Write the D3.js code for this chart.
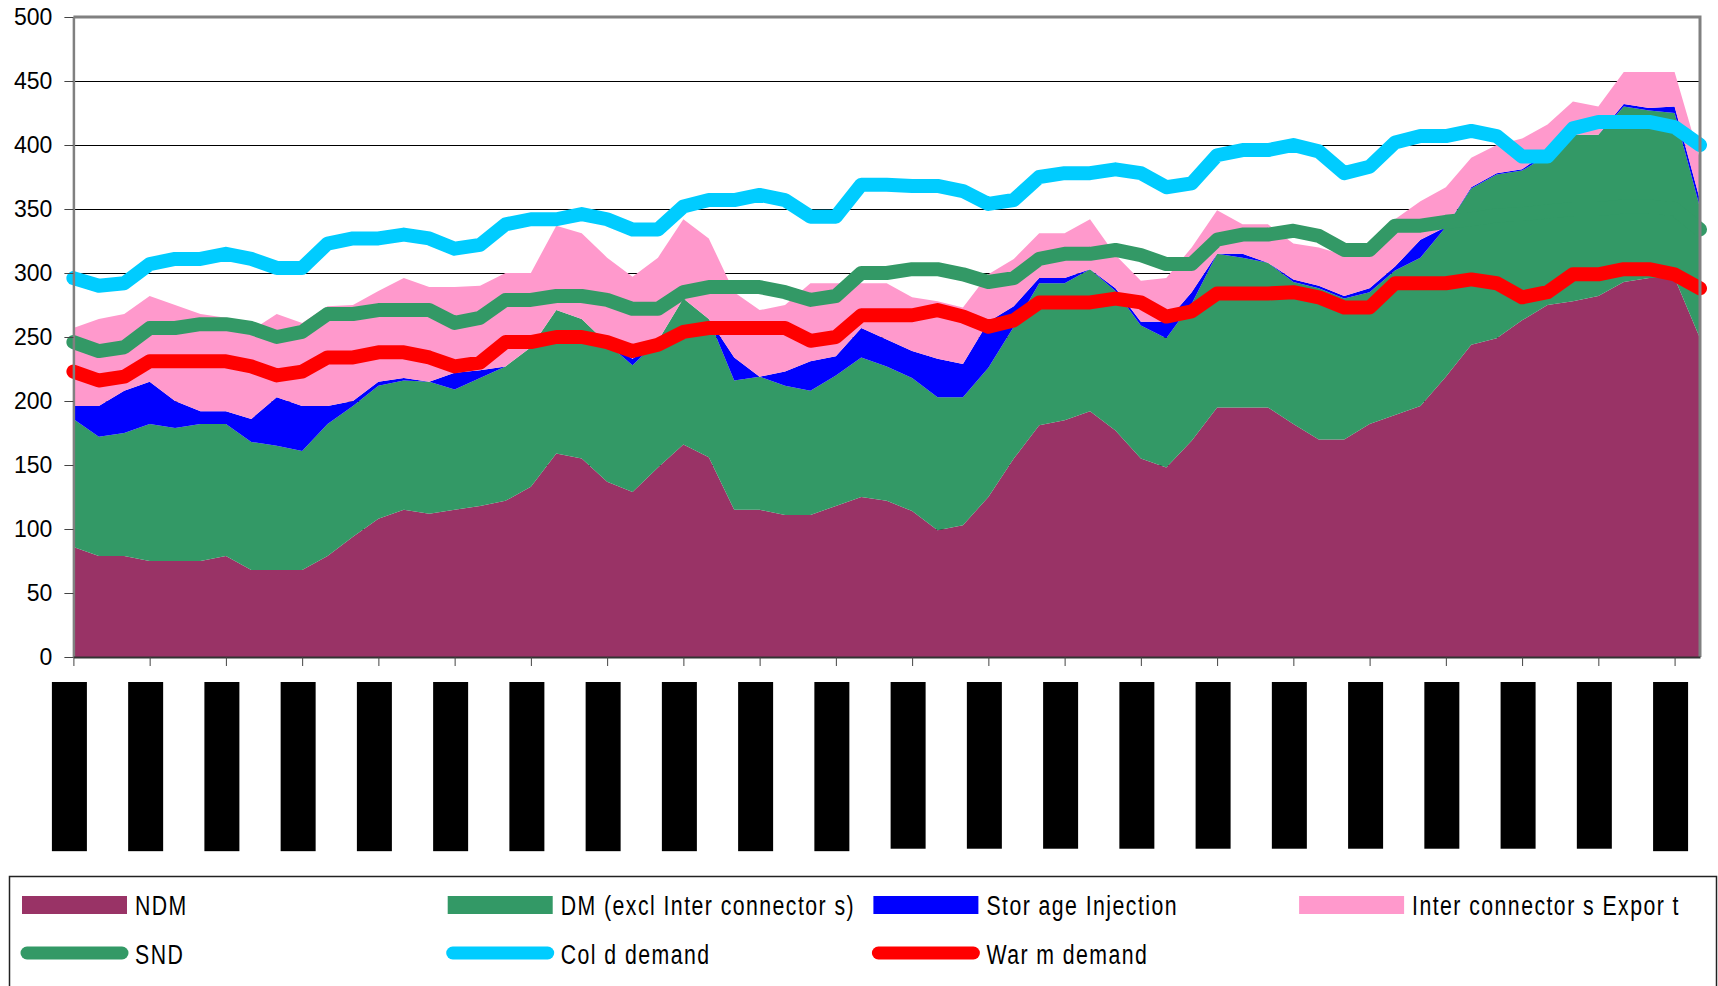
<!DOCTYPE html>
<html>
<head>
<meta charset="utf-8">
<script src="https://cdn.jsdelivr.net/npm/d3@7/dist/d3.min.js"></script>
<style>
  body { margin: 0; background: #fff; }
  svg { display: block; font-family: "Liberation Sans", Arial, sans-serif; }
  .legend text { font-family: "Liberation Sans", Arial, sans-serif; font-size: 28px; letter-spacing: 1.9px; }
</style>
</head>
<body>
<svg id="chart" width="1718" height="986"></svg>
<script>
// daily gas demand, one point per gas day
const dates = [
  "01/10/2008","02/10/2008","03/10/2008","04/10/2008","05/10/2008","06/10/2008","07/10/2008","08/10/2008",
  "09/10/2008","10/10/2008","11/10/2008","12/10/2008","13/10/2008","14/10/2008","15/10/2008","16/10/2008",
  "17/10/2008","18/10/2008","19/10/2008","20/10/2008","21/10/2008","22/10/2008","23/10/2008","24/10/2008",
  "25/10/2008","26/10/2008","27/10/2008","28/10/2008","29/10/2008","30/10/2008","31/10/2008","01/11/2008",
  "02/11/2008","03/11/2008","04/11/2008","05/11/2008","06/11/2008","07/11/2008","08/11/2008","09/11/2008",
  "10/11/2008","11/11/2008","12/11/2008","13/11/2008","14/11/2008","15/11/2008","16/11/2008","17/11/2008",
  "18/11/2008","19/11/2008","20/11/2008","21/11/2008","22/11/2008","23/11/2008","24/11/2008","25/11/2008",
  "26/11/2008","27/11/2008","28/11/2008","29/11/2008","30/11/2008","01/12/2008","02/12/2008","03/12/2008",
  "04/12/2008"
];

// stacked areas
const ndm = [86,79,79,75,75,75,79,68,68,68, 79,94,108,115,112,115,118,122,133,159,
  155,137,129,148,166,156,115,115,111,111, 118,125,122,114,99,103,125,155,181,185,
  192,177,155,148,169,195,195,195,182,170, 170,182,189,196,219,244,249,263,275,278,
  282,293,296,296,249];
const dm = [100,93,96,107,104,107,103,100,97,93, 103,102,104,101,103,94,100,105,109,112,
  109,108,99,99,114,108,101,104,101,97, 102,109,105,104,104,100,101,103,111,107,
  111,109,104,101,107,120,117,113,111,118, 110,103,113,116,117,122,128,117,117,130,
  126,137,131,129,102];
const storage = [10,24,33,33,21,10,10,18,38,35, 14,4,3,2,0,13,6,0,0,0,
  0,0,5,0,0,0,18,0,11,23, 15,23,21,21,30,26,36,16,4,4,
  0,2,3,13,9,0,3,0,2,2, 2,3,3,14,0,1,1,1,3,0,
  0,2,2,5,6];
const interconnectors = [61,68,60,67,75,76,73,69,65,65, 78,75,71,78,74,67,66,73,58,66,
  67,67,64,65,62,63,51,52,52,61, 57,35,44,42,45,44,37,37,35,35,
  39,26,32,34,35,34,23,30,28,30, 32,27,37,30,31,23,22,24,21,26,
  22,25,28,27,32];

// lines
const snd = [246,239,242,257,257,260,260,257,250,254, 268,268,271,271,271,261,265,279,279,282,
  282,279,272,272,285,289,289,289,285,279, 282,300,300,303,303,299,293,296,311,315,
  315,318,314,307,307,326,330,330,333,329, 318,318,337,337,340,342,345,346,348,350,
  350,352,352,350,334];
const cold = [296,290,292,307,311,311,315,311,304,304, 323,327,327,330,327,319,322,338,342,342,
  346,342,334,334,352,357,357,361,357,344, 344,369,369,368,368,364,354,357,375,378,
  378,381,378,367,370,392,396,396,400,395, 378,383,402,407,407,411,407,391,391,413,
  418,418,418,414,400];
const warm = [223,216,219,231,231,231,231,227,220,223, 234,234,238,238,234,227,230,246,246,250,
  250,246,239,244,254,257,257,257,257,247, 250,267,267,267,271,266,258,263,277,277,
  277,280,277,266,270,284,284,284,285,281, 273,273,292,292,292,295,292,281,285,299,
  299,303,303,299,288];

const yTicks = [0, 50, 100, 150, 200, 250, 300, 350, 400, 450, 500];
const areaNames = ["NDM", "DM (excl Inter connector s)", "Stor age Injection", "Inter connector s Expor t"];
const areaColors = ["#993366", "#339966", "#0000ff", "#ff99cc"];
const lineNames = ["SND", "Col d demand", "War m demand"];
const lineColors = ["#339966", "#00ccff", "#ff0000"];

const svg = d3.select("#chart");
const plotLeft = 73.4, plotRight = 1700, plotTop = 17, plotBottom = 657;

const x = d3.scalePoint().domain(dates).range([plotLeft, plotRight]);
const y = d3.scaleLinear().domain([0, 500]).range([plotBottom, plotTop]);

// gridlines go under the areas
svg.append("g")
  .attr("transform", "translate(" + plotLeft + ",0)")
  .call(d3.axisLeft(y).tickValues(yTicks.slice(1, -1)).tickSize(-(plotRight - plotLeft)).tickFormat(""))
  .call(g => g.select(".domain").remove())
  .call(g => g.selectAll("line").attr("stroke", "#000").attr("stroke-width", 1));

const rows = dates.map((d, i) => ({
  date: d, ndm: ndm[i], dm: dm[i], storage: storage[i], inter: interconnectors[i]
}));
const series = d3.stack().keys(["ndm", "dm", "storage", "inter"])(rows);

const area = d3.area()
  .x(d => x(d.data.date))
  .y0(d => y(d[0]))
  .y1(d => y(d[1]));

svg.append("g").selectAll("path")
  .data(series)
  .join("path")
  .attr("d", area)
  .attr("fill", (d, i) => areaColors[i]);

const line = d3.line()
  .x((d, i) => x(dates[i]))
  .y(d => y(d));

svg.append("g").selectAll("path")
  .data([snd, cold, warm])
  .join("path")
  .attr("d", line)
  .attr("fill", "none")
  .attr("stroke", (d, i) => lineColors[i])
  .attr("stroke-width", 14)
  .attr("stroke-linejoin", "round")
  .attr("stroke-linecap", "round");

// plot frame: grey top and right edge
svg.append("path")
  .attr("d", "M" + plotLeft + "," + plotTop + "H" + plotRight + "V" + plotBottom)
  .attr("fill", "none")
  .attr("stroke", "#808080")
  .attr("stroke-width", 3);

// y axis
const yAxis = svg.append("g")
  .attr("transform", "translate(" + plotLeft + ",0)")
  .call(d3.axisLeft(y).tickValues(yTicks).tickSize(9).tickPadding(12).tickSizeOuter(0));
yAxis.select(".domain").attr("stroke", "#808080").attr("stroke-width", 2.5);
yAxis.selectAll(".tick line").attr("stroke", "#444");
yAxis.selectAll("text").attr("font-size", 23).attr("fill", "#000")
  .attr("font-family", "'Liberation Sans', Arial, sans-serif");

// x axis, a labelled tick every third day
const tickDates = dates.filter((d, i) => i % 3 === 0);
const xAxis = svg.append("g")
  .attr("transform", "translate(0," + plotBottom + ")")
  .call(d3.axisBottom(x).tickValues(tickDates).tickSize(9).tickSizeOuter(0).tickFormat(""));
xAxis.select(".domain").attr("stroke", "#333").attr("stroke-width", 2);
xAxis.selectAll(".tick line").attr("stroke", "#444");

// date labels: rotated, printed as solid black blocks like the source
const labels = svg.append("g").selectAll("g")
  .data(tickDates)
  .join("g")
  .attr("transform", d => "translate(" + (x(d) - 4) + ",682) rotate(-90)");
labels.append("text")
  .attr("text-anchor", "end")
  .attr("dominant-baseline", "central")
  .attr("x", -2)
  .attr("font-size", 33)
  .attr("fill", "#000")
  .text(d => d);
labels.insert("rect", "text")
  .each(function () {
    const bb = this.parentNode.querySelector("text").getBBox();
    d3.select(this)
      .attr("x", bb.x - 2)
      .attr("y", -17.5)
      .attr("width", bb.width + 4)
      .attr("height", 35)
      .attr("fill", "#000");
  });

// legend
const legend = svg.append("g").attr("class", "legend");
legend.append("rect")
  .attr("x", 9.5).attr("y", 876.5)
  .attr("width", 1707).attr("height", 140)
  .attr("fill", "#fff").attr("stroke", "#222").attr("stroke-width", 1.5);

// the source font is a narrow face, so squeeze the legend text
const squeeze = 0.76;

const areaItems = legend.selectAll("g.area-item")
  .data(areaNames)
  .join("g")
  .attr("class", "area-item")
  .attr("transform", (d, i) => "translate(" + (22 + i * 425.7) + ",896)");
areaItems.append("rect")
  .attr("width", 105).attr("height", 18)
  .attr("fill", (d, i) => areaColors[i]);
areaItems.append("text")
  .attr("transform", "translate(113,19) scale(" + squeeze + ",1)")
  .text(d => d);

const lineItems = legend.selectAll("g.line-item")
  .data(lineNames)
  .join("g")
  .attr("class", "line-item")
  .attr("transform", (d, i) => "translate(" + (20 + i * 425.7) + ",953)");
lineItems.append("line")
  .attr("x1", 7).attr("x2", 102)
  .attr("stroke", (d, i) => lineColors[i])
  .attr("stroke-width", 13)
  .attr("stroke-linecap", "round");
lineItems.append("text")
  .attr("transform", "translate(115,11) scale(" + squeeze + ",1)")
  .text(d => d);
</script>
</body>
</html>
